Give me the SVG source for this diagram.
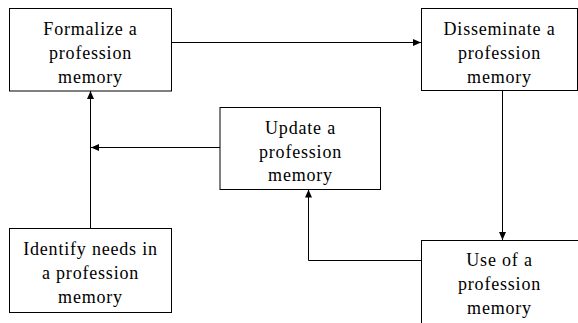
<svg xmlns="http://www.w3.org/2000/svg" width="578" height="323" viewBox="0 0 578 323">
<defs>
<style>
.box{fill:#fff;stroke:#000;stroke-width:1}
.lbl{font-family:'Liberation Serif','Times New Roman',serif;font-size:18px;letter-spacing:0.8px;fill:#000;text-anchor:middle}
.con{fill:none;stroke:#000;stroke-width:1}
</style>
<marker id="ah" markerWidth="8" markerHeight="7" refX="8" refY="3.5" orient="auto" markerUnits="userSpaceOnUse">
<path d="M0,0 L8,3.5 L0,7 Z" fill="#000"/>
</marker>
</defs>
<rect width="578" height="323" fill="#fff"/>
<g id="connectors">
<path class="con" d="M171.5,42.5 H421" marker-end="url(#ah)"/>
<path class="con" d="M502.5,90.5 V240" marker-end="url(#ah)"/>
<path class="con" d="M421.5,260.5 H308.5 V189.5" marker-end="url(#ah)"/>
<path class="con" d="M220,147.5 H91" marker-end="url(#ah)"/>
<path class="con" d="M90.5,228.5 V91" marker-end="url(#ah)"/>
</g>
<g id="formalize">
<rect class="box" x="9.5" y="8.5" width="162" height="82.5"/>
<text class="lbl" x="90.5" y="34.5">Formalize a</text>
<text class="lbl" x="90.5" y="58.5">profession</text>
<text class="lbl" x="90.5" y="82.5">memory</text>
</g>
<g id="disseminate">
<rect class="box" x="421.5" y="8.5" width="156" height="82"/>
<text class="lbl" x="499.5" y="34.5">Disseminate a</text>
<text class="lbl" x="499.5" y="58.5">profession</text>
<text class="lbl" x="499.5" y="82.5">memory</text>
</g>
<g id="update">
<rect class="box" x="220" y="107.5" width="160.5" height="82"/>
<text class="lbl" x="300.5" y="133.5">Update a</text>
<text class="lbl" x="300.5" y="157.5">profession</text>
<text class="lbl" x="300.5" y="181">memory</text>
</g>
<g id="use">
<rect class="box" x="421.5" y="240.5" width="170" height="100"/>
<text class="lbl" x="499.5" y="266">Use of a</text>
<text class="lbl" x="499.5" y="290">profession</text>
<text class="lbl" x="499.5" y="314">memory</text>
</g>
<g id="identify">
<rect class="box" x="9.5" y="228.5" width="162" height="84"/>
<text class="lbl" x="90.5" y="254.5">Identify needs in</text>
<text class="lbl" x="90.5" y="278.5">a profession</text>
<text class="lbl" x="90.5" y="302.5">memory</text>
</g>
</svg>
